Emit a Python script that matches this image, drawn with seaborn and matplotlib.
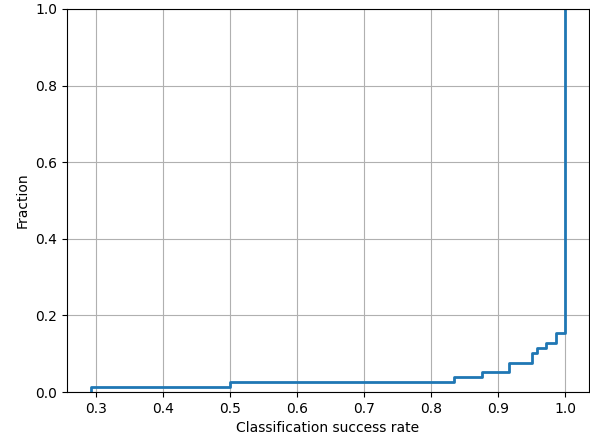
import matplotlib
matplotlib.use("Agg")
import matplotlib.pyplot as plt
import seaborn as sns
import numpy as np
import pandas as pd

# success-rate values and how many samples have each
rates = [0.2917, 0.5, 0.8333, 0.875, 0.9167, 0.95, 0.9583, 0.9714, 0.9861, 1.0]
counts = [1, 1, 1, 1, 2, 2, 1, 1, 2, 66]

data = pd.DataFrame({"rate": np.repeat(rates, counts)})

fig = plt.figure(figsize=(5.9, 4.42), dpi=100)
ax = fig.add_axes([67/590, 1 - 392/442, (589 - 67)/590, (392 - 9)/442])
sns.ecdfplot(data=data, x="rate", ax=ax, color="#1f77b4", linewidth=2)
ax.set_ylim(0, 1)
ax.set_xlabel("Classification success rate")
ax.set_ylabel("Fraction")
ax.grid(True)
fig.savefig("out.png", dpi=100)
